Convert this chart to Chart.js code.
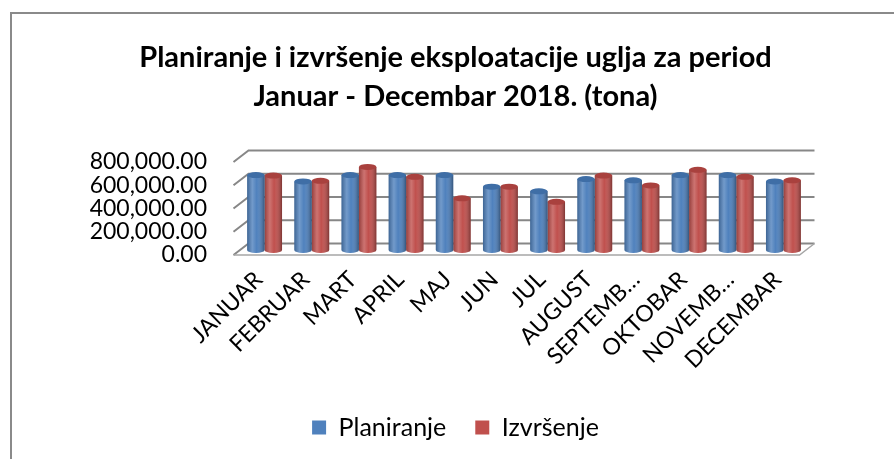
<!DOCTYPE html>
<html>
<head>
<meta charset="utf-8">
<script src="https://cdn.jsdelivr.net/npm/chart.js@4/dist/chart.umd.min.js"></script>
<style>
  html, body { margin: 0; padding: 0; background: #fff; }
  canvas { display: block; }
</style>
</head>
<body>
<canvas id="chart" width="894" height="459"></canvas>
<script>
// podaci (tone)
const months = ['JANUAR', 'FEBRUAR', 'MART', 'APRIL', 'MAJ', 'JUN', 'JUL', 'AUGUST', 'SEPTEMB…', 'OKTOBAR', 'NOVEMB…', 'DECEMBAR'];
const planiranje = [645000, 590000, 645000, 645000, 645000, 545000, 505000, 610000, 600000, 645000, 645000, 590000];
const izvrsenje = [640000, 595000, 715000, 630000, 445000, 545000, 415000, 640000, 555000, 690000, 630000, 600000];
const yTicks = [0, 200000, 400000, 600000, 800000];
const titleLines = ['Planiranje i izvršenje eksploatacije uglja za period', 'Januar - Decembar 2018. (tona)'];

const BLUE = '#4F81BD';
const RED = '#C0504D';
const GRID = '#878787';

// okvir oko grafikona (lijevo i gore)
const frame = {
    id: 'frame',
    beforeDraw(chart) {
        const c = chart.ctx;
        c.save();
        c.strokeStyle = '#8a8a8a';
        c.lineWidth = 2;
        c.beginPath();
        c.moveTo(11, chart.height);
        c.lineTo(11, 13);
        c.lineTo(chart.width, 13);
        c.stroke();
        c.restore();
    }
};

// 3D zid i pod iza stubova
const wall = {
    id: 'wall',
    beforeDatasetsDraw(chart) {
        const c = chart.ctx;
        const a = chart.chartArea;
        const y = chart.scales.y;
        const bx = 7.5, by = -6.5, fx = -7.5, fy = 5;
        c.save();
        c.strokeStyle = GRID;
        c.lineWidth = 2;
        y.ticks.forEach(t => {
            const py = y.getPixelForValue(t.value);
            c.beginPath();
            c.moveTo(a.left + fx, py + fy);
            c.lineTo(a.left + bx, py + by);
            c.lineTo(a.right + bx, py + by);
            c.stroke();
        });
        const p0 = y.getPixelForValue(0);
        c.lineWidth = 1.5;
        c.strokeStyle = '#a6a6a6';
        c.beginPath();
        c.moveTo(a.left + fx, p0 + fy);
        c.lineTo(a.right + fx, p0 + fy);
        c.lineTo(a.right + bx, p0 + by);
        c.stroke();
        c.restore();
    }
};

// valjkasti izgled stubova
const cylinders = {
    id: 'cylinders',
    afterDatasetsDraw(chart) {
        const c = chart.ctx;
        chart.data.datasets.forEach((ds, di) => {
            const meta = chart.getDatasetMeta(di);
            meta.data.forEach(bar => {
                const w = bar.width, x0 = bar.x - w / 2, x1 = bar.x + w / 2;
                const top = bar.y, base = bar.base, ry = 3;
                c.save();
                c.fillStyle = ds.backgroundColor;
                c.beginPath();
                c.ellipse(bar.x, base, w / 2, ry, 0, 0, Math.PI);
                c.fill();
                const g = c.createLinearGradient(x0, 0, x1, 0);
                g.addColorStop(0, 'rgba(0,0,0,0.22)');
                g.addColorStop(0.3, 'rgba(255,255,255,0.2)');
                g.addColorStop(0.55, 'rgba(255,255,255,0)');
                g.addColorStop(1, 'rgba(0,0,0,0.35)');
                c.fillStyle = g;
                c.beginPath();
                c.moveTo(x0, top);
                c.lineTo(x0, base);
                c.ellipse(bar.x, base, w / 2, ry, 0, Math.PI, 0, true);
                c.lineTo(x1, top);
                c.closePath();
                c.fill();
                c.fillStyle = ds.capColor;
                c.beginPath();
                c.ellipse(bar.x, top, w / 2, ry, 0, 0, Math.PI * 2);
                c.fill();
                c.restore();
            });
        });
    }
};

new Chart(document.getElementById('chart'), {
    type: 'bar',
    data: {
        labels: months,
        datasets: [
            { label: 'Planiranje', data: planiranje, backgroundColor: BLUE, capColor: '#3f6ea6' },
            { label: 'Izvršenje', data: izvrsenje, backgroundColor: RED, capColor: '#a9413e' }
        ]
    },
    options: {
        responsive: false,
        animation: false,
        events: [],
        layout: { padding: { left: 17, right: 0, top: 0, bottom: 9 } },
        datasets: {
            bar: { categoryPercentage: 0.74, barPercentage: 1.0, borderWidth: 0 }
        },
        plugins: {
            title: {
                display: true,
                text: titleLines,
                color: '#000',
                font: { family: 'Lato', size: 29, weight: 'bold', lineHeight: 1.345 },
                padding: { top: 38, bottom: 41 }
            },
            legend: {
                position: 'bottom',
                labels: {
                    color: '#000',
                    boxWidth: 14,
                    boxHeight: 14,
                    padding: 29,
                    font: { family: 'Lato', size: 25 }
                }
            },
            tooltip: { enabled: false }
        },
        scales: {
            x: {
                grid: { display: false, drawTicks: false },
                border: { display: false },
                ticks: {
                    color: '#000',
                    font: { family: 'Lato', size: 23 },
                    minRotation: 45,
                    maxRotation: 45,
                    autoSkip: false,
                    padding: 16,
                    labelOffset: -6
                },
                afterFit(s) { s.height = 136; }
            },
            y: {
                min: 0,
                max: 800000,
                afterBuildTicks(s) { s.ticks = yTicks.map(v => ({ value: v })); },
                grid: { display: false, drawTicks: false },
                border: { display: false },
                ticks: {
                    color: '#000',
                    font: { family: 'Lato', size: 23, lineHeight: 1 },
                    autoSkip: false,
                    padding: 34,
                    labelOffset: 5,
                    callback: v => v.toLocaleString('en-US', { minimumFractionDigits: 2, maximumFractionDigits: 2 })
                },
                afterFit(s) { s.width = 224; }
            },
            yR: {
                position: 'right',
                grid: { display: false, drawTicks: false },
                border: { display: false },
                ticks: { display: false },
                afterFit(s) { s.width = 87; }
            }
        }
    },
    plugins: [frame, wall, cylinders]
});
</script>
</body>
</html>
